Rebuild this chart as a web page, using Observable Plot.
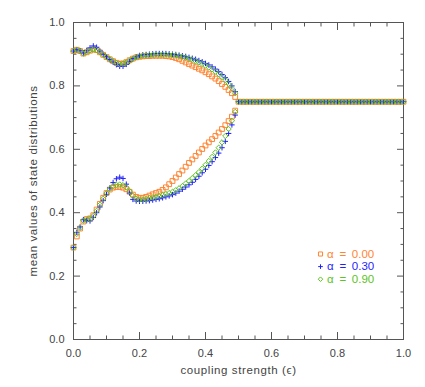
<!DOCTYPE html>
<html>
<head>
<meta charset="utf-8">
<script src="https://cdn.jsdelivr.net/npm/d3@7"></script>
<script src="https://cdn.jsdelivr.net/npm/@observablehq/plot@0.6"></script>
<style>
html, body { margin: 0; padding: 0; background: #fff; }
svg { display: block; }
</style>
</head>
<body>
<div id="chart"></div>
<script>
// ---- data ----
const epsBranch = [0.00,0.01,0.02,0.03,0.04,0.05,0.06,0.07,0.08,0.09,
  0.10,0.11,0.12,0.13,0.14,0.15,0.16,0.17,0.18,0.19,
  0.20,0.21,0.22,0.23,0.24,0.25,0.26,0.27,0.28,0.29,
  0.30,0.31,0.32,0.33,0.34,0.35,0.36,0.37,0.38,0.39,
  0.40,0.41,0.42,0.43,0.44,0.45,0.46,0.47,0.48,0.49];

const epsSync = [0.50,0.51,0.52,0.53,0.54,0.55,0.56,0.57,0.58,0.59,
  0.60,0.61,0.62,0.63,0.64,0.65,0.66,0.67,0.68,0.69,
  0.70,0.71,0.72,0.73,0.74,0.75,0.76,0.77,0.78,0.79,
  0.80,0.81,0.82,0.83,0.84,0.85,0.86,0.87,0.88,0.89,
  0.90,0.91,0.92,0.93,0.94,0.95,0.96,0.97,0.98,0.99,1.00];

const syncValue = [0.75,0.75,0.75,0.75,0.75,0.75,0.75,0.75,0.75,0.75,
  0.75,0.75,0.75,0.75,0.75,0.75,0.75,0.75,0.75,0.75,
  0.75,0.75,0.75,0.75,0.75,0.75,0.75,0.75,0.75,0.75,
  0.75,0.75,0.75,0.75,0.75,0.75,0.75,0.75,0.75,0.75,
  0.75,0.75,0.75,0.75,0.75,0.75,0.75,0.75,0.75,0.75,0.75];

const orangeUpper = [0.910,0.914,0.910,0.902,0.906,0.911,0.915,0.913,0.906,0.898,
  0.891,0.884,0.878,0.873,0.870,0.871,0.875,0.881,0.886,0.890,
  0.892,0.893,0.894,0.894,0.895,0.895,0.895,0.895,0.894,0.893,
  0.891,0.888,0.884,0.879,0.874,0.869,0.864,0.859,0.854,0.849,
  0.843,0.837,0.830,0.823,0.815,0.806,0.797,0.787,0.777,0.765];
const orangeLower = [0.290,0.325,0.350,0.372,0.380,0.382,0.392,0.410,0.428,0.447,
  0.462,0.473,0.479,0.481,0.481,0.479,0.474,0.466,0.457,0.450,
  0.447,0.447,0.450,0.454,0.458,0.462,0.466,0.472,0.480,0.490,
  0.500,0.511,0.522,0.533,0.545,0.557,0.568,0.579,0.590,0.601,
  0.612,0.622,0.632,0.642,0.653,0.664,0.676,0.689,0.703,0.722];

const blueUpper = [0.910,0.914,0.911,0.904,0.912,0.920,0.926,0.922,0.910,0.900,
  0.892,0.883,0.875,0.867,0.862,0.862,0.868,0.877,0.886,0.892,
  0.896,0.898,0.899,0.900,0.901,0.902,0.902,0.902,0.902,0.901,
  0.900,0.899,0.897,0.895,0.893,0.890,0.887,0.884,0.880,0.876,
  0.871,0.866,0.860,0.853,0.845,0.836,0.826,0.814,0.800,0.782];
const blueLower = [0.290,0.338,0.355,0.378,0.375,0.374,0.385,0.400,0.418,0.438,
  0.458,0.478,0.495,0.507,0.512,0.508,0.490,0.462,0.442,0.437,
  0.436,0.436,0.437,0.438,0.440,0.442,0.444,0.447,0.450,0.453,
  0.457,0.462,0.468,0.474,0.481,0.488,0.496,0.505,0.515,0.526,
  0.537,0.549,0.561,0.574,0.588,0.605,0.625,0.650,0.677,0.708];

const greenUpper = [0.910,0.914,0.910,0.902,0.907,0.912,0.915,0.913,0.906,0.898,
  0.891,0.884,0.878,0.872,0.869,0.870,0.874,0.880,0.886,0.890,
  0.893,0.895,0.896,0.897,0.898,0.899,0.899,0.899,0.899,0.898,
  0.897,0.896,0.894,0.892,0.889,0.886,0.882,0.878,0.874,0.869,
  0.864,0.858,0.852,0.845,0.837,0.828,0.818,0.806,0.793,0.777];
const greenLower = [0.290,0.333,0.352,0.375,0.378,0.380,0.390,0.406,0.425,0.444,
  0.461,0.475,0.484,0.488,0.489,0.487,0.480,0.468,0.453,0.444,
  0.441,0.441,0.443,0.446,0.448,0.450,0.453,0.456,0.459,0.462,
  0.466,0.471,0.477,0.484,0.492,0.500,0.509,0.518,0.528,0.539,
  0.551,0.563,0.576,0.590,0.605,0.622,0.642,0.664,0.690,0.718];

const seriesNames = ["α\u2002=\u20020.00", "α\u2002=\u20020.30", "α\u2002=\u20020.90"];

const xMajorTicks = [0, 0.2, 0.4, 0.6, 0.8, 1.0];
const xMinorTicks = [0.05,0.10,0.15,0.25,0.30,0.35,0.45,0.50,0.55,0.65,0.70,0.75,0.85,0.90,0.95];
const xTickLabels = ["0.0", "0.2", "0.4", "0.6", "0.8", "1.0"];
const yMajorTicks = [0, 0.2, 0.4, 0.6, 0.8, 1.0];
const yMinorTicks = [0.05,0.10,0.15,0.25,0.30,0.35,0.45,0.50,0.55,0.65,0.70,0.75,0.85,0.90,0.95];
const yTickLabels = ["0.0", "0.2", "0.4", "0.6", "0.8", "1.0"];

const xTitle = "coupling strength (ϵ)";
const yTitle = "mean values of state distributions";

// ---- styling ----
const fontFamily = "'Liberation Sans', Arial, sans-serif";
const axisColor = "#555";
const textColor = "#444";
const styles = [
  {color: "#ff8533", symbol: "square", r: 2.7, upper: orangeUpper, lower: orangeLower},
  {color: "#1f1fff", symbol: "plus", r: 1.9, upper: blueUpper, lower: blueLower},
  {color: "#5cc421", symbol: "diamond2", r: 2.4, upper: greenUpper, lower: greenLower}
];

const rows = [];
styles.forEach((s, k) => {
  epsBranch.forEach((e, i) => {
    rows.push({series: k, eps: e, value: s.upper[i]});
    rows.push({series: k, eps: e, value: s.lower[i]});
  });
  epsSync.forEach((e, i) => rows.push({series: k, eps: e, value: syncValue[i]}));
});

const dataMarks = styles.map((s, k) =>
  Plot.dot(rows.filter(d => d.series === k), {
    x: "eps", y: "value", symbol: () => s.symbol, r: s.r,
    stroke: s.color, fill: "none", strokeWidth: 1
  })
);

const legendMarks = [];
styles.forEach((s, k) => {
  legendMarks.push(Plot.dot([seriesNames[k]], {
    frameAnchor: "bottom-right", dx: -83, dy: -85.5 + 12.6 * k,
    symbol: () => s.symbol, r: s.r * 0.85, stroke: s.color, fill: "none", strokeWidth: 1
  }));
  legendMarks.push(Plot.text([seriesNames[k]], {
    frameAnchor: "bottom-right", dx: -76.5, dy: -85.5 + 12.6 * k,
    text: d => d, textAnchor: "start", lineAnchor: "middle",
    fill: s.color, fontSize: 11.5
  }));
});

const chart = Plot.plot({
  width: 425,
  height: 387,
  marginLeft: 73,
  marginRight: 22,
  marginTop: 22,
  marginBottom: 48,
  style: {fontFamily, fontSize: "11px", background: "#fff", color: textColor},
  x: {domain: [0, 1]},
  y: {domain: [0, 1]},
  marks: [
    // inner ticks on all four sides
    Plot.axisX(xMajorTicks, {anchor: "bottom", tickSize: -7, fill: "none", stroke: axisColor, label: null}),
    Plot.axisX(xMinorTicks, {anchor: "bottom", tickSize: -3.5, fill: "none", stroke: axisColor, label: null}),
    Plot.axisX(xMajorTicks, {anchor: "top", tickSize: -7, fill: "none", stroke: axisColor, label: null}),
    Plot.axisX(xMinorTicks, {anchor: "top", tickSize: -3.5, fill: "none", stroke: axisColor, label: null}),
    Plot.axisY(yMajorTicks, {anchor: "left", tickSize: -7, fill: "none", stroke: axisColor, label: null}),
    Plot.axisY(yMinorTicks, {anchor: "left", tickSize: -3.5, fill: "none", stroke: axisColor, label: null}),
    Plot.axisY(yMajorTicks, {anchor: "right", tickSize: -7, fill: "none", stroke: axisColor, label: null}),
    Plot.axisY(yMinorTicks, {anchor: "right", tickSize: -3.5, fill: "none", stroke: axisColor, label: null}),
    // tick labels
    Plot.axisX(xMajorTicks, {anchor: "bottom", tickSize: 0, tickPadding: 10, fill: textColor,
      tickFormat: d => xTickLabels[xMajorTicks.indexOf(d)], label: null, fontSize: 11}),
    Plot.axisY(yMajorTicks, {anchor: "left", tickSize: 0, tickPadding: 9, fill: textColor,
      tickFormat: d => yTickLabels[yMajorTicks.indexOf(d)], label: null, fontSize: 11}),
    Plot.frame({stroke: axisColor, strokeWidth: 1}),
    // axis titles
    Plot.text([xTitle], {frameAnchor: "bottom", dy: 31, text: d => d, lineAnchor: "middle",
      textAnchor: "middle", fill: textColor, fontSize: 11.5}),
    Plot.text([yTitle], {frameAnchor: "left", dx: -40, text: d => d, rotate: -90, lineAnchor: "middle",
      textAnchor: "middle", fill: textColor, fontSize: 11.5}),
    ...dataMarks,
    ...legendMarks
  ]
});

// widen the title lettering slightly to match the reference's stroke font
d3.select(chart).selectAll("text").each(function() {
  const t = this.textContent;
  if (t === xTitle || t === yTitle) this.setAttribute("letter-spacing", "0.6");
});

document.getElementById("chart").appendChild(chart);
</script>
</body>
</html>
